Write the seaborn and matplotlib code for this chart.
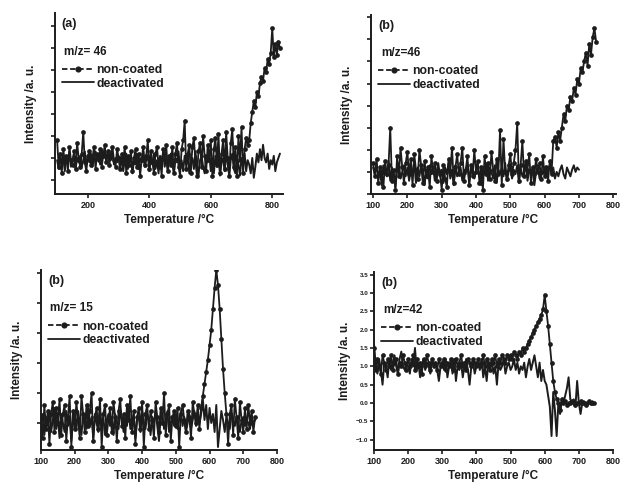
import numpy as np
import pandas as pd
import matplotlib
matplotlib.use('Agg')
import matplotlib.pyplot as plt
import seaborn as sns
from matplotlib.lines import Line2D
from matplotlib.ticker import MultipleLocator

sns.set_theme(style='ticks')
plt.rcParams['font.family'] = ['Liberation Sans', 'DejaVu Sans']
plt.rcParams['font.weight'] = 'bold'
plt.rcParams['axes.labelweight'] = 'bold'

# panel (a), m/z = 46, 100..825 C every 5
nc_a = [18, 6, 12, 3, 14, 8, 11, 4, 15, 9, 7, 13, 5, 17, 10, 6, 12, 22, 8, 4, 11,
        13, 7, 10, 15, 5, 12, 9, 14, 6, 11, 16, 8, 13, 7, 12, 15, 9, 6, 14, 10,
        5, 12, 8, 15, 3, 11, 7, 13, 4, 10, 14, 6, 12, 2, 9, 15, 7, 11, 18, 5,
        13, 8, 3, 12, 15, 6, 10, 2, 14, 9, 16, 4, 11, 7, 15, 3, 12, 17, 6, 2,
        14, 18, 27, 5, 12, 16, 3, 15, 19, 8, 2, 13, 17, 6, 20, 11, 4, 16, 9, 18,
        2, 14, 19, 7, 21, 3, 12, 18, 5, 22, 10, 2, 17, 23, 6, 15, 2, 20, 9, 24,
        3, 14, 19, 16,
        18, 26, 31, 36, 33, 40, 38, 44, 47, 45, 51, 49, 55, 53, 58, 69, 56, 62, 57, 63, 60]
dc_a = [9, 5, 12, 7, 10, 4, 11, 8, 13, 6, 9, 12, 5, 10, 8, 11, 6, 9, 13, 7, 10,
        8, 12, 6, 10, 13, 9, 11, 7, 14, 10, 12, 8, 13, 11, 9, 12, 7, 10, 8, 11,
        6, 10, 4, 9, 12, 5, 8, 11, 3, 9, 7, 12, 5, 10, 8, 13, 6, 9, 11, 4,
        10, 7, 12, 5, 9, 3, 11, 8, 13, 6, 10, 4, 9, 12, 7, 3, 10, 8, 13, 5,
        9, 4, 11, 7, 12, 3, 8, 10, 5, 13, 7, 2, 9, 11, 6, 3, 10, 8, 12, 4,
        9, 3, 11, 6, 12, 2, 8, 10, 4, 13, 7, 2, 9, 12, 5, 3, 11, 7, 2, 10,
        6, 12, 4, 9,
        7, 3, 10, 1, 6, 12, 8, 14, 9, 16, 10, 8, 12, 5, 9, 7, 11, 4, 8, 10, 12]
t_a = np.arange(100, 826, 5)

# panel (b) top, m/z = 46
nc_b = [14, 8, 16, 5, 12, 10, 3, 15, 9, 13, 30, 6, 11, 2, 17, 8, 21, 12, 5, 14, 19,
        9, 16, 4, 18, 11, 7, 20, 13, 5, 15, 8, 12, 3, 17, 10, 14, 6, 11, 9, 2,
        13, 7, 3, 16, 10, 21, 5, 12, 18, 9, 14, 21, 6, 11, 17, 4, 13, 8, 20, 10,
        15, 5, 12, 2, 17, 9, 14, 7, 19, 11, 6, 16, 9, 29, 4, 25, 10, 7, 13, 18,
        9, 14, 20, 32, 6, 13, 24, 8, 15, 11, 18, 5, 12, 9, 16, 10, 14, 7, 17, 8,
        12, 6, 15, 9, 24, 26, 21, 28, 24, 30, 36, 33, 40, 38, 44, 42, 48, 45, 52, 50,
        57, 55, 60, 64, 58, 68, 63, 71, 75, 69]
dc_b = [12, 9, 14, 7, 11, 4, 13, 10, 8, 15, 6, 12, 9, 3, 11, 14, 7, 10, 13, 8, 12,
        6, 11, 9, 14, 5, 12, 8, 13, 10, 4, 11, 7, 13, 9, 12, 6, 10, 14, 8, 11,
        5, 12, 9, 14, 7, 11, 4, 13, 8, 10, 12, 6, 11, 9, 14, 5, 10, 12, 7, 11,
        13, 8, 4, 11, 9, 14, 6, 12, 10, 7, 13, 5, 11, 9, 12, 8, 14, 6, 10, 12,
        7, 11, 9, 13, 5, 12, 8, 10, 14, 6, 11, 9, 12, 4, 10, 13, 7, 11, 9, 12,
        8, 11, 13, 9, 12, 7, 10, 8, 11, 13, 9, 7, 12, 10, 8, 11, 13, 10, 12, 11]
t_b_nc = np.arange(100, 751, 5)
t_b_dc = np.arange(100, 701, 5)

# panel (b) bottom-left, m/z = 15
nc_c = [2, -5, 6, -2, 4, -7, 3, 7, -3, 5, 0, 8, -4, 3, 6, -6, 2, 9, -8, 4, -2,
        7, 1, -5, 9, 3, -3, 6, -1, 4, 10, -6, 2, 5, -2, 8, -8, 3, 6, -4, 1,
        5, -3, 7, 2, -6, 4, 8, -1, 3, -5, 6, 1, 9, -3, 4, -7, 2, 5, -2, 7,
        -8, 3, 6, -2, 4, 1, -5, 7, 2, -3, 5, 0, 10, -4, 3, 6, -6, 2, 4, -1,
        5, -8, 3, 6, 1, -3, 4, 2, -5, 7, 3, 0, 6, -2, 5, 9, 13, 17, 21, 26,
        31, 38, 45, 51, 46, 38, 28, 18, 10, 3, -7, 3, 6, -4, 8, 2, -5, 7, 1, -3,
        5, -2, 6, 0, 4, -3, 2]
dc_c = [0, 3, -4, 2, -1, 4, -3, 1, 5, -2, 2, -5, 3, 0, -3, 4, -1, 2, -6, 1, 3,
        -2, 4, 0, -4, 3, 1, -2, 5, -1, 2, -5, 3, 0, -3, 4, -1, 2, -4, 1, 3,
        -1, 2, -4, 3, 0, -2, 4, 1, -3, 2, -1, 5, -2, 0, 3, -5, 1, 2, -3, 4,
        0, -2, 3, 1, -4, 2, 0, 4, -1, -6, 2, 3, -2, 1, 4, -3, 0, 2, -1, 3,
        -2, 1, 4, -1, 2, -3, 0, 3, -2, 1, 4, -1, 2, 0, 3, 8, 1, 6, -2, 5,
        0, 3, -3, 6, -8, -2, 4, 1, -3, 2, 0, -2, 3, 1, -1, 2, 0, -3, 1, 2,
        -1, 1, 0, -2, 2, 0, 1]
t_c = np.arange(100, 736, 5)

# panel (b) bottom-right, m/z = 42
nc_d = [1.5, 0.9, 1.2, 1.0, 0.8, 1.3, 1.1, 0.9, 1.2, 1.0, 1.3, 0.9, 1.1, 1.2, 0.8, 1.1, 1.0, 1.3, 1.1, 0.9, 1.2,
        1.0, 1.1, 1.3, 0.9, 1.2, 1.0, 1.1, 0.8, 1.2, 1.0, 1.3, 1.1, 0.9, 1.2, 1.0, 1.1, 0.9, 1.2, 1.0, 1.1,
        1.2, 0.9, 1.1, 1.0, 1.2, 1.1, 0.9, 1.2, 1.0, 1.1, 1.3, 1.0, 1.1, 0.9, 1.2, 1.1, 1.0, 1.2, 1.1, 1.0,
        1.2, 1.0, 1.1, 1.3, 1.0, 1.2, 1.1, 0.9, 1.2, 1.1, 1.3, 1.0, 1.2, 1.1, 1.3, 1.2, 1.1, 1.3, 1.2, 1.3,
        1.2, 1.4, 1.3, 1.2, 1.4, 1.3, 1.5, 1.4, 1.5, 1.6, 1.7, 1.8, 1.9, 2.0, 2.1, 2.2, 2.3, 2.4, 2.55, 2.95,
        2.5, 2.1, 1.6, 1.1, 0.6, 0.3, 0.1, 0.0, -0.2, 0.1, 0.0, 0.05, -0.05, 0.0, 0.0, 0.05, 0.0, -0.05, 0.0, 0.0,
        0.05, 0.0, 0.0, -0.05, 0.0, 0.05, 0.0, 0.0, 0.0]
dc_d = [1.6, 1.0, 0.8, 1.2, 0.9, 0.5, 1.1, 1.0, 0.7, 1.2, 0.9, 1.1, 1.3, 1.0, 0.8, 1.2, 1.4, 1.0, 0.9, 1.1, 1.0,
        0.8, 1.2, 1.0, 1.5, 0.9, 1.1, 0.7, 1.0, 1.2, 0.9, 1.1, 1.0, 0.8, 1.2, 1.0, 1.1, 0.9, 0.6, 1.0, 1.1,
        0.9, 1.2, 0.7, 1.0, 1.1, 0.8, 1.2, 0.6, 1.0, 0.9, 1.1, 0.7, 1.0, 1.2, 0.9, 0.5, 1.0, 1.1, 0.8, 1.0,
        1.1, 0.9, 1.2, 0.7, 1.0, 0.6, 1.1, 0.9, 1.2, 0.8, 1.0, 0.5, 1.1, 0.9, 1.0, 1.2, 0.8, 1.0, 1.1, 0.9,
        1.0, 1.2, 0.9, 1.1, 0.8, 1.0, 0.9, 1.1, 0.7, 1.0, 1.2, 0.9, 1.1, 1.3, 1.0, 0.7, 1.1, 0.6, 0.9, 0.6,
        0.5, 0.2, -0.1, -0.9, 0.3, -0.2, -0.9, 0.0, -0.3, 0.1, 0.0, 0.2, 0.4, 0.7, 0.1, 0.0, 0.1, -0.1, 0.6, 0.0,
        -0.3, 0.0, 0.05, 0.0, -0.05, 0.0, 0.0, 0.05, 0.0]
t_d = np.arange(100, 746, 5)

ink = '#1c1c1c'

fig = plt.figure(figsize=(6.22, 4.86), dpi=100)
panels = [
    # rect, t_nc, nc, t_dc, dc, xlim, ylim, tag, mz, xticks
    ([0.0884, 0.6008, 0.3666, 0.3724], t_a, nc_a, t_a, dc_a, (93, 835), (-6.4, 76), '(a)', 'm/z= 46', [200, 400, 600, 800]),
    ([0.5965, 0.6008, 0.3939, 0.3683], t_b_nc, nc_b, t_b_dc, dc_b, (94, 808), (0, 81), '(b)', 'm/z=46', list(range(100, 801, 100))),
    ([0.0659, 0.0741, 0.3794, 0.3704], t_c, nc_c, t_c, dc_c, (100, 800), (-9, 51), '(b)', 'm/z= 15', list(range(100, 801, 100))),
    ([0.6013, 0.0741, 0.3842, 0.3663], t_d, nc_d, t_d, dc_d, (100, 800), (-1.28, 3.57), '(b)', 'm/z=42', list(range(100, 801, 100))),
]

for i, (rect, tn, yn, td, yd, xl, yl, tag, mz, xt) in enumerate(panels):
    ax = fig.add_axes(rect)
    sns.lineplot(x=td, y=yd, ax=ax, color=ink, linewidth=1.4, legend=False)
    sns.lineplot(x=tn, y=yn, ax=ax, color=ink, linewidth=1.3, marker='o',
                 markersize=3.4, markeredgewidth=0, legend=False)
    ax.set_xlim(*xl)
    ax.set_ylim(*yl)
    ax.set_xticks(xt)
    sns.despine(ax=ax)
    for s in ['left', 'bottom']:
        ax.spines[s].set_color(ink)
        ax.spines[s].set_linewidth(1.4)
    ax.tick_params(axis='both', colors=ink, labelsize=6.5, length=3, width=1.2, pad=2)
    if i == 3:
        ax.yaxis.set_major_locator(MultipleLocator(0.5))
        ax.tick_params(axis='y', labelsize=4.5, length=3, pad=1)
    else:
        ax.yaxis.set_major_locator(MultipleLocator(10))
        ax.set_yticklabels([])
    ax.set_xlabel('Temperature /°C', fontsize=8.5, color=ink, labelpad=3)
    ax.set_ylabel('Intensity /a. u.', fontsize=8.5, color=ink, labelpad=8 if i != 3 else 4)
    ax.text(0.03, 0.97, tag, transform=ax.transAxes, fontsize=9, color=ink, va='top')
    ax.text(0.04, 0.82, mz, transform=ax.transAxes, fontsize=8.5, color=ink, va='top')
    handles = [Line2D([], [], color=ink, ls=(0, (3, 1.5)), lw=1.3, marker='o', ms=3.4),
               Line2D([], [], color=ink, lw=1.3)]
    ax.legend(handles, ['non-coated', 'deactivated'], loc='upper left',
              bbox_to_anchor=(0.0, 0.76), frameon=False, fontsize=8.8,
              handlelength=2.6, handletextpad=0.2, labelspacing=0.15,
              borderaxespad=0.2, numpoints=1, labelcolor=ink)

fig.savefig('out.png', dpi=100)
